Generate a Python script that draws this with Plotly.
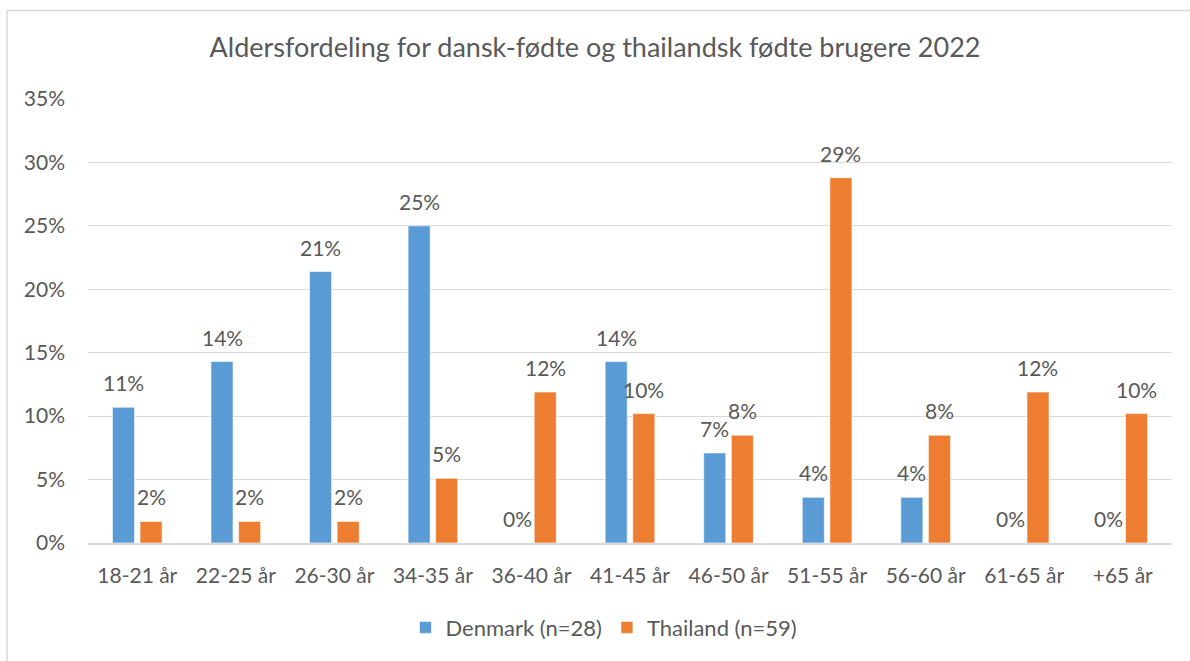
import plotly.graph_objects as go

categories = ["18-21 år", "22-25 år", "26-30 år", "34-35 år", "36-40 år", "41-45 år",
              "46-50 år", "51-55 år", "56-60 år", "61-65 år", "+65 år"]
denmark = [0.107, 0.143, 0.214, 0.25, 0.0, 0.143, 0.071, 0.036, 0.036, 0.0, 0.0]
thailand = [0.017, 0.017, 0.017, 0.051, 0.119, 0.102, 0.085, 0.288, 0.085, 0.119, 0.102]
series_names = ["Denmark (n=28)", "Thailand (n=59)"]
title_text = "Aldersfordeling for dansk-fødte og thailandsk fødte brugere 2022"

FONT = "Lato"
TXT = "#595959"
W, H = 1190, 661
L, R, T, B = 88, 18, 99, 116
pw, ph = W - L - R, H - T - B
BARGAP, GROUPGAP = 0.44, 0.2
slot_px = pw / len(categories) * (1 - BARGAP) / 2

fig = go.Figure()
series = [(series_names[0], denmark, "#5b9bd5", -0.5), (series_names[1], thailand, "#ed7d31", 0.5)]
for name, vals, col, side in series:
    fig.add_trace(go.Bar(
        x=categories, y=vals, name=name,
        marker=dict(color=col, line=dict(color="rgba(255,255,255,0.6)", width=1)),
    ))
    for c, v in zip(categories, vals):
        fig.add_annotation(x=c, y=v, xref="x", yref="y", text=f"{v*100:.0f}%",
                           showarrow=False, yanchor="bottom", xanchor="center",
                           xshift=side * slot_px, yshift=10,
                           font=dict(family=FONT, size=21, color=TXT))

# outer chart border (left and top visible)
bx = (7 - L) / pw
by = 1 + (T - 10) / ph
fig.add_shape(type="line", xref="paper", yref="paper", x0=bx, x1=1.2, y0=by, y1=by,
              line=dict(color="#d9d9d9", width=1.5))
fig.add_shape(type="line", xref="paper", yref="paper", x0=bx, x1=bx, y0=by, y1=-0.5,
              line=dict(color="#d9d9d9", width=1.5))

fig.update_layout(
    width=W, height=H,
    margin=dict(l=L, r=R, t=T, b=B),
    paper_bgcolor="white", plot_bgcolor="white",
    barmode="group", bargap=BARGAP, bargroupgap=GROUPGAP,
    title=dict(text=title_text, x=0.5, xanchor="center", y=1 - 48 / H, yanchor="middle",
               font=dict(family=FONT, size=27, color=TXT)),
    font=dict(family=FONT, color=TXT),
    legend=dict(orientation="h", x=0.476, xanchor="center", y=-(630 - 545) / ph, yanchor="middle",
                font=dict(family=FONT, size=22, color=TXT), itemwidth=30),
    xaxis=dict(showgrid=False, showline=True, linecolor="#d9d9d9", linewidth=1.5,
               tickfont=dict(family=FONT, size=21, color=TXT), ticks="", ticklabelstandoff=13),
    yaxis=dict(range=[0, 0.35], dtick=0.05, tickformat=".0%", showgrid=True,
               gridcolor="#d9d9d9", gridwidth=1, zeroline=False, showline=False,
               tickfont=dict(family=FONT, size=21, color=TXT), ticklabelstandoff=22),
)

fig.write_html("out.html", post_script="document.body.style.margin='0';",
               config={"displayModeBar": False})
